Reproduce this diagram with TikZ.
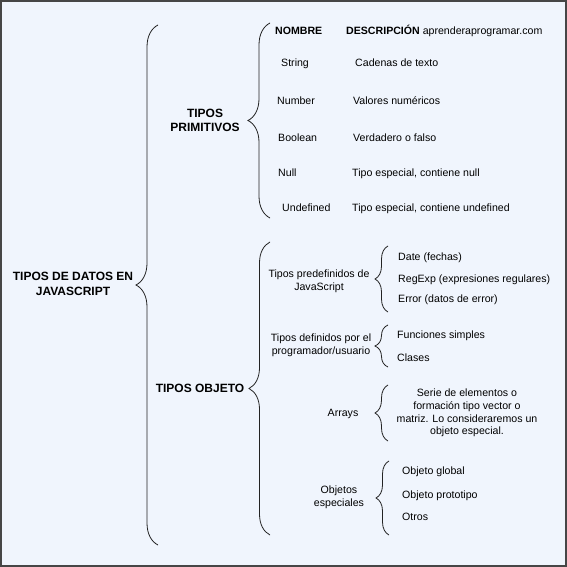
\documentclass[tikz,border=0pt]{standalone}
\usepackage{fontspec}
\setmainfont{Liberation Sans}
\usetikzlibrary{decorations.pathreplacing}

\definecolor{fondo}{RGB}{240,245,253}
\definecolor{marco}{RGB}{70,70,70}
\definecolor{trazo}{RGB}{35,35,35}

\tikzset{
  llave/.style={decorate,decoration={brace,amplitude=#1},draw=trazo,line width=0.8pt},
  llave/.default=13pt,
  tx/.style={font=\fontsize{10.6}{12.8}\selectfont,inner sep=0pt,text height=7.6pt,text depth=0pt},
  txm/.style={font=\fontsize{10.6}{12.6}\selectfont,inner sep=0pt,align=center},
  hd/.style={tx,font=\fontsize{10.6}{12.8}\selectfont\bfseries},
  tit/.style={font=\fontsize{12}{14.5}\selectfont\bfseries,inner sep=0pt,align=center},
}

\begin{document}
\begin{tikzpicture}[x=1pt,y=-1pt]

\draw[marco,line width=2pt,fill=fondo] (1,1) rectangle (566,566);
\useasboundingbox (0,0) rectangle (567,567);

\draw (73,284) node[tit](T_0){TIPOS DE DATOS EN\\JAVASCRIPT};
\draw (205,120.5) node[tit](T_P){TIPOS\\PRIMITIVOS};
\draw (200,388) node[tit](T_O){TIPOS OBJETO};

\coordinate (L_0a) at (158,545);
\coordinate (L_0b) at (158,25);
\draw[llave=22pt] (L_0a) -- (L_0b);

\coordinate (L_Pa) at (270,218);
\coordinate (L_Pb) at (270,23);
\draw[llave=22pt] (L_Pa) -- (L_Pb);

\coordinate (L_Oa) at (270,535);
\coordinate (L_Ob) at (270,242);
\draw[llave=21pt] (L_Oa) -- (L_Ob);

% primitivos
\draw (275,31) node[hd,anchor=west](N_0){NOMBRE};
\draw (346,31) node[tx,anchor=west](D_0){\textbf{DESCRIPCIÓN} aprenderaprogramar.com};
\draw (281,63) node[tx,anchor=west](N_1){String};
\draw (355,63) node[tx,anchor=west](D_1){Cadenas de texto};
\draw (277,101) node[tx,anchor=west](N_2){Number};
\draw (353,101) node[tx,anchor=west](D_2){Valores numéricos};
\draw (278,138) node[tx,anchor=west](N_3){Boolean};
\draw (353,138) node[tx,anchor=west](D_3){Verdadero o falso};
\draw (278,173) node[tx,anchor=west](N_4){Null};
\draw (352,173) node[tx,anchor=west](D_4){Tipo especial, contiene null};
\draw (282,208) node[tx,anchor=west](N_5){Undefined};
\draw (352,208) node[tx,anchor=west](D_5){Tipo especial, contiene undefined};

% objeto
\draw (319,281) node[txm](O_1){Tipos predefinidos de\\JavaScript};
\coordinate (L_1a) at (388,312);
\coordinate (L_1b) at (388,246);
\draw[llave] (L_1a) -- (L_1b);
\draw (398,257) node[tx,anchor=west](O_1a){Date (fechas)};
\draw (398,279) node[tx,anchor=west](O_1b){RegExp (expresiones regulares)};
\draw (398,299) node[tx,anchor=west](O_1c){Error (datos de error)};

\draw (321,345.5) node[txm](O_2){Tipos definidos por el\\programador/usuario};
\coordinate (L_2a) at (388,367);
\coordinate (L_2b) at (388,325);
\draw[llave] (L_2a) -- (L_2b);
\draw (397,335) node[tx,anchor=west](O_2a){Funciones simples};
\draw (397,358) node[tx,anchor=west](O_2b){Clases};

\draw (343,413) node[tx](O_3){Arrays};
\coordinate (L_3a) at (388,441);
\coordinate (L_3b) at (388,385);
\draw[llave] (L_3a) -- (L_3b);
\draw (467,413) node[txm](O_3a){Serie de elementos o\\formación tipo vector o\\matriz. Lo consideraremos un\\objeto especial.};

\draw (339,497) node[txm](O_4){Objetos\\especiales};
\coordinate (L_4a) at (389,535);
\coordinate (L_4b) at (389,461);
\draw[llave] (L_4a) -- (L_4b);
\draw (402,471) node[tx,anchor=west](O_4a){Objeto global};
\draw (402,495) node[tx,anchor=west](O_4b){Objeto prototipo};
\draw (402,517) node[tx,anchor=west](O_4c){Otros};

\end{tikzpicture}
\end{document}
